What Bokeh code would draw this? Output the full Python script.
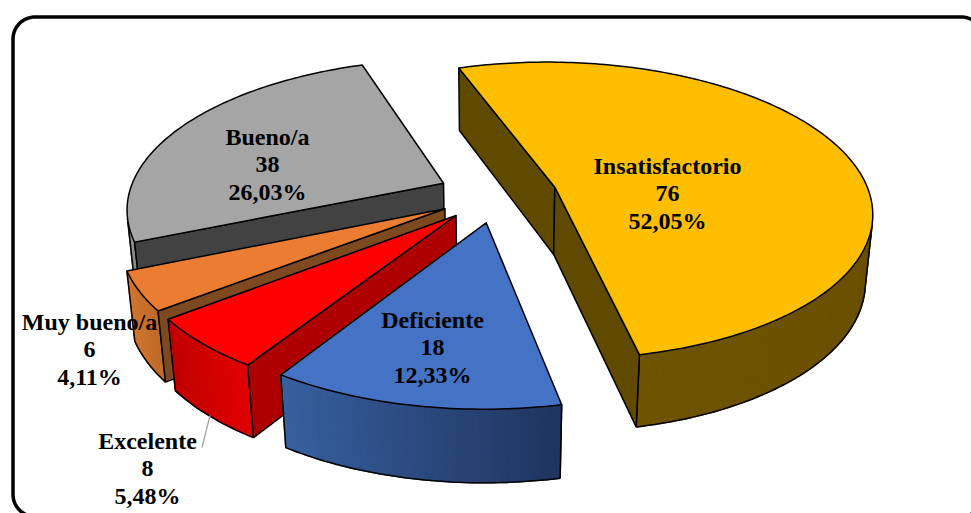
import numpy as np
from bokeh.core.properties import value
from bokeh.embed import file_html
from bokeh.models import Range1d
from bokeh.plotting import figure
from bokeh.resources import INLINE

# Survey results
categories = ["Insatisfactorio", "Deficiente", "Excelente", "Muy bueno/a", "Bueno/a"]
counts = [76, 18, 8, 6, 38]

# Slice colours: top face, radial wall, rim gradient ends (start angle side, end angle side)
top_colors = ["#FDBE00", "#4472C4", "#FF0000", "#EB7D33", "#A5A5A5"]
wall_colors = ["#604A00", "#2F5597", "#AE0000", "#7C4A1E", "#424242"]
rim_start = ["#5E4700", "#1F3560", "#E00000", "#C06A28", "#8C8C8C"]
rim_end = ["#6E5300", "#38609F", "#C00000", "#D0752F", "#8C8C8C"]

# Label anchors: centre x and y of the first text line, in page pixels
label_x = [667, 432, 147, 89, 267]
label_y = [165, 319, 440, 321, 136]
LINE_STEP = 27.5

# Projection of the pie's ground plane onto the page
CX, CY = 497.0, 194.0
SCALE_X, SCALE_Y = 315.0, 147.0
PERSP_Y, PERSP_Z = 0.158, 0.02
THICKNESS, THICKNESS_PERSP = 67.5, 0.12
START_DEG = -19.0
EXPLODE = 0.19
EDGE_WIDTH = 1.5


def project(x, y, z=0.0):
    """Map unit-radius pie coordinates to page pixels; z=1 is the underside."""
    w = 1 + PERSP_Y * y + PERSP_Z * z
    return CX + SCALE_X * x / w, CY - SCALE_Y * y / w + THICKNESS * z / (1 + THICKNESS_PERSP * y)


def mix(c1, c2, t):
    a = [int(c1[i:i + 2], 16) for i in (1, 3, 5)]
    b = [int(c2[i:i + 2], 16) for i in (1, 3, 5)]
    return "#" + "".join(f"{round(u + (v - u) * t):02x}" for u, v in zip(a, b))


def signed_area(xs, ys):
    """Shoelace sum in page coordinates (y pointing down)."""
    xs, ys = np.asarray(xs), np.asarray(ys)
    return float(np.sum(xs * np.roll(ys, -1) - np.roll(xs, -1) * ys))


p = figure(width=971, height=513, output_backend="svg", toolbar_location=None,
           x_range=Range1d(0, 971), y_range=Range1d(513, 0), min_border=0,
           background_fill_color="white", border_fill_color="white", outline_line_color=None)
p.axis.visible = False
p.grid.visible = False

# Rounded chart frame, running off the right and bottom of the page
FRAME_L, FRAME_T, FRAME_R, FRAME_B, FRAME_RAD = 12.5, 16.5, 983.0, 516.0, 22.0
corner = np.radians(np.linspace(0, 90, 16))
fx, fy = [], []
for ox, oy, a0 in [(FRAME_L + FRAME_RAD, FRAME_B - FRAME_RAD, 90),
                   (FRAME_L + FRAME_RAD, FRAME_T + FRAME_RAD, 180),
                   (FRAME_R - FRAME_RAD, FRAME_T + FRAME_RAD, 270),
                   (FRAME_R - FRAME_RAD, FRAME_B - FRAME_RAD, 0)]:
    fx += list(ox + FRAME_RAD * np.cos(np.radians(a0) + corner))
    fy += list(oy + FRAME_RAD * np.sin(np.radians(a0) + corner))
p.line(fx + fx[:1], fy + fy[:1], line_color="black", line_width=3.5)

# Slice angles, clockwise from the back of the pie
total = sum(counts)
sweeps = [c / total * 360 for c in counts]
starts = START_DEG + np.concatenate([[0], np.cumsum(sweeps)[:-1]])
geometry = []
for start, sweep in zip(starts, sweeps):
    mid = np.radians(start + sweep / 2)
    off_x, off_y = EXPLODE * np.sin(mid), EXPLODE * np.cos(mid)
    th = np.radians(np.linspace(start, start + sweep, max(int(sweep), 12)))
    geometry.append((off_x, off_y, th))

# Painter's order: the back slices first, the large front-right slice last
for i in [4, 3, 2, 1, 0]:
    off_x, off_y, th = geometry[i]
    ax, ay = off_x + np.sin(th), off_y + np.cos(th)
    tx, ty = project(ax, ay)
    bx, by = project(ax, ay, 1.0)
    ctx, cty = project(off_x, off_y)
    cbx, cby = project(off_x, off_y, 1.0)

    # Rim as narrow shaded strips, only where it faces the viewer
    xs, ys, cols = [], [], []
    n = len(th) - 1
    front = []
    for j in range(n):
        qx = [tx[j], tx[j + 1], bx[j + 1], bx[j]]
        qy = [ty[j], ty[j + 1], by[j + 1], by[j]]
        if signed_area(qx, qy) < 0:
            xs.append(qx)
            ys.append(qy)
            cols.append(mix(rim_start[i], rim_end[i], j / max(n - 1, 1)))
            front.append(j)
    if xs:
        p.patches(xs, ys, fill_color=cols, line_color=cols, line_width=1.5)
        idx = front + [front[-1] + 1]
        p.line(list(bx[idx]), list(by[idx]), line_color="black", line_width=EDGE_WIDTH)
        for k in (idx[0], idx[-1]):
            p.line([tx[k], bx[k]], [ty[k], by[k]], line_color="black", line_width=EDGE_WIDTH)

    # Radial walls, only the ones that face the viewer
    for k, sign in ((0, -1), (-1, 1)):
        qx, qy = [ctx, tx[k], bx[k], cbx], [cty, ty[k], by[k], cby]
        if sign * signed_area(qx, qy) > 0:
            p.patch(qx, qy, fill_color=wall_colors[i], line_color="black", line_width=EDGE_WIDTH)

    # Top face
    p.patch([ctx] + list(tx), [cty] + list(ty), fill_color=top_colors[i],
            line_color="black", line_width=EDGE_WIDTH, line_join="round")

# Leader for the small slice whose label sits outside the pie
p.line([209.5, 201.5], [415, 447], line_color="#A6A6A6", line_width=1.3)

# Data labels: category, count and share on three centred lines
for name, count, x, y in zip(categories, counts, label_x, label_y):
    share = f"{count / total * 100:.2f}".replace(".", ",") + "%"
    lines = [name, str(count), share]
    p.text([x] * 3, [y + LINE_STEP * n for n in range(3)], text=lines,
           text_font=value("Liberation Serif"), text_font_style="bold", text_font_size="24px",
           text_color="black", text_align="center", text_baseline="middle")

open("out.html", "w").write(file_html(p, INLINE))
